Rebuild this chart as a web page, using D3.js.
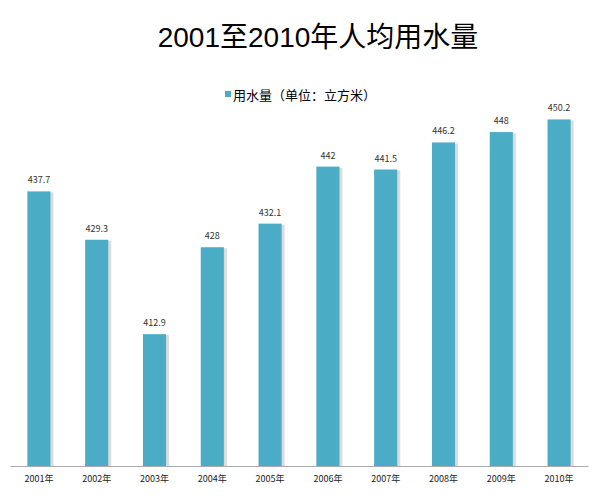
<!DOCTYPE html>
<html>
<head>
<meta charset="utf-8">
<script src="https://cdn.jsdelivr.net/npm/d3@7"></script>
<style>
  body { margin: 0; background: #fff; }
  svg { display: block; font-family: "Noto Sans CJK SC", "DejaVu Sans", sans-serif; }
</style>
</head>
<body>
<svg id="chart"></svg>
<script>
var years = ["2001年", "2002年", "2003年", "2004年", "2005年", "2006年", "2007年", "2008年", "2009年", "2010年"];
var usage = [437.7, 429.3, 412.9, 428, 432.1, 442, 441.5, 446.2, 448, 450.2];
var titleText = "2001至2010年人均用水量";
var legendText = "用水量（单位：立方米）";

var svgWidth = 600;
var svgHeight = 498;
var plotLeft = 10, plotRight = 588, plotTop = 63, plotBottom = 466;
var barColor = "#4bacc6";

var svg = d3.select("#chart")
    .attr("width", svgWidth)
    .attr("height", svgHeight);

var xScale = d3.scaleBand()
    .domain(years)
    .range([plotLeft, plotRight])
    .paddingInner(0.6)
    .paddingOuter(0.3);

var yScale = d3.scaleLinear()
    .domain([390, 460])
    .range([plotBottom, plotTop]);

// title
svg.append("text")
    .attr("x", 318)
    .attr("y", 47)
    .attr("text-anchor", "middle")
    .style("font-family", "'Liberation Sans', 'Noto Sans CJK SC', sans-serif")
    .style("font-size", "28px")
    .style("fill", "#000")
    .text(titleText);

// legend
svg.append("rect")
    .attr("x", 225)
    .attr("y", 91)
    .attr("width", 6)
    .attr("height", 6)
    .attr("fill", barColor);
svg.append("text")
    .attr("x", 233)
    .attr("y", 100)
    .style("font-size", "13px")
    .style("fill", "#000")
    .text(legendText);

// bar shadows
svg.selectAll("rect.shadow")
    .data(usage)
    .enter()
    .append("rect")
    .attr("class", "shadow")
    .attr("x", function (d, i) { return xScale(years[i]) + 2; })
    .attr("y", function (d) { return yScale(d) + 1; })
    .attr("width", xScale.bandwidth() + 1)
    .attr("height", function (d) { return plotBottom - yScale(d) - 1; })
    .attr("fill", "#dcdcdc");

// bars
svg.selectAll("rect.bar")
    .data(usage)
    .enter()
    .append("rect")
    .attr("class", "bar")
    .attr("x", function (d, i) { return xScale(years[i]); })
    .attr("y", function (d) { return yScale(d); })
    .attr("width", xScale.bandwidth())
    .attr("height", function (d) { return plotBottom - yScale(d); })
    .attr("fill", barColor);

// value labels
svg.selectAll("text.value")
    .data(usage)
    .enter()
    .append("text")
    .attr("class", "value")
    .attr("x", function (d, i) { return xScale(years[i]) + xScale.bandwidth() / 2; })
    .attr("y", function (d) { return yScale(d) - 8; })
    .attr("text-anchor", "middle")
    .style("font-size", "9px")
    .style("fill", "#333")
    .text(function (d) { return d; });

// x axis
var xAxis = d3.axisBottom(xScale).tickSize(0).tickPadding(10);
var gx = svg.append("g")
    .attr("transform", "translate(0," + plotBottom + ")")
    .call(xAxis);
gx.select(".domain").attr("stroke", "#aaa").attr("stroke-width", 1);
gx.selectAll("text")
    .style("font-size", "9px")
    .style("fill", "#222")
    .style("font-family", "'Noto Sans CJK SC', sans-serif");
</script>
</body>
</html>
